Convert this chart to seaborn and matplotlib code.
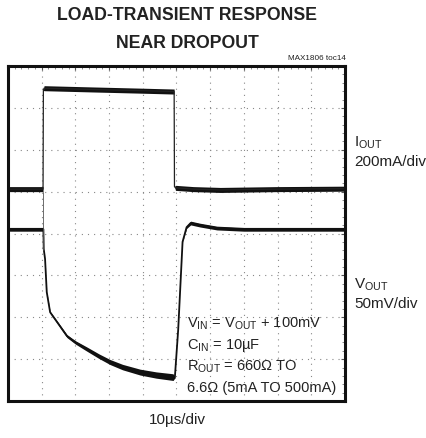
import numpy as np
import pandas as pd
import seaborn as sns
import matplotlib.pyplot as plt
from matplotlib.ticker import MultipleLocator

# scope screen: 10 x-divisions, 8 y-divisions (values in divisions)
iout_t = [0.0, 1.04, 1.05, 1.07, 2.5, 4.0, 4.93, 4.94, 4.97, 5.5, 6.3, 8.0, 10.0]
iout_y = [5.06, 5.06, 7.42, 7.47, 7.44, 7.41, 7.39, 5.12, 5.09, 5.06, 5.04, 5.06, 5.07]
iout_spread = [0.06, 0.06, 0.0, 0.06, 0.06, 0.06, 0.06, 0.0, 0.06, 0.06, 0.06, 0.06, 0.06]

vout_t = [0.0, 1.05, 1.06, 1.10, 1.15, 1.25, 1.54, 1.75, 2.0, 2.34, 2.7, 3.03,
          3.4, 3.92, 4.4, 4.90, 4.95, 5.05, 5.18, 5.30, 5.42, 5.7, 6.2, 7.0, 10.0]
vout_y = [4.10, 4.10, 3.63, 3.39, 2.60, 2.12, 1.79, 1.55, 1.40, 1.24, 1.07, 0.93,
          0.81, 0.69, 0.62, 0.57, 0.55, 1.70, 3.80, 4.15, 4.25, 4.20, 4.13, 4.10, 4.10]
vout_spread = [0.045, 0.045, 0.0, 0.005, 0.01, 0.02, 0.03, 0.035, 0.04, 0.05, 0.055, 0.06,
               0.065, 0.07, 0.075, 0.08, 0.0, 0.0, 0.005, 0.03, 0.045, 0.045, 0.045, 0.045, 0.045]

title_lines = ["LOAD-TRANSIENT RESPONSE", "NEAR DROPOUT"]
right_labels = [r"I$_\mathregular{OUT}$", "200mA/div", r"V$_\mathregular{OUT}$", "50mV/div"]
right_label_y = [143, 162, 285, 304]
conditions = [r"V$_\mathregular{IN}$ = V$_\mathregular{OUT}$ + 100mV",
              r"C$_\mathregular{IN}$ = 10µF",
              r"R$_\mathregular{OUT}$ = 660Ω TO",
              r"6.6Ω (5mA TO 500mA)"]

sns.set_style("white")
plt.rcParams['font.family'] = ['Liberation Sans', 'DejaVu Sans']
plt.rcParams['mathtext.fontset'] = 'custom'
plt.rcParams['mathtext.rm'] = 'Liberation Sans'

fig = plt.figure(figsize=(4.27, 4.39), dpi=100)
ax = fig.add_axes([8/427, 1 - 402/439, 337/427, 335/439])

iout = pd.DataFrame({"t": iout_t, "y": iout_y, "s": iout_spread})
vout = pd.DataFrame({"t": vout_t, "y": vout_y, "s": vout_spread})

for d in (iout, vout):
    ax.fill_between(d["t"], d["y"] - d["s"], d["y"] + d["s"], color="#111111", lw=0)
sns.lineplot(data=iout, x="t", y="y", ax=ax, color="#222222", lw=0.9, sort=False)
sns.lineplot(data=vout, x="t", y="y", ax=ax, color="#111111", lw=1.3, sort=False)
ax.plot([1.05, 1.05], [3.6, 5.0], color="#555555", lw=0.6)

ax.set_xlim(0, 10)
ax.set_ylim(0, 8)
ax.xaxis.set_major_locator(MultipleLocator(1))
ax.yaxis.set_major_locator(MultipleLocator(1))
ax.xaxis.set_minor_locator(MultipleLocator(0.2))
ax.yaxis.set_minor_locator(MultipleLocator(0.2))
ax.grid(True, which="major", color="#888888", lw=0.8, linestyle=(0, (1, 4.5)))
ax.tick_params(which="both", direction="in", top=True, right=True,
               labelbottom=False, labelleft=False)
ax.tick_params(which="major", length=3, width=0.8, color="#555555")
ax.tick_params(which="minor", length=2, width=0.6, color="#777777")
for sp in ax.spines.values():
    sp.set_linewidth(2.2)
    sp.set_color("#111111")
ax.set_xlabel("")
ax.set_ylabel("")

for i, line in enumerate(title_lines):
    fig.text(187/427, 1 - (16 + 27*i)/439, line, ha="center", va="center",
             fontsize=12.7, fontweight="bold", color="#222222")
fig.text(346/427, 1 - 58/439, "MAX1806 toc14", ha="right", va="center",
         fontsize=5.9, color="#222222")

for lab, y in zip(right_labels, right_label_y):
    fig.text(354/427, 1 - y/439, lab, ha="left", va="center",
             fontsize=11, color="#222222")

for i, line in enumerate(conditions):
    fig.text(187/427, 1 - (324 + 21.3*i)/439, line, ha="left", va="center",
             fontsize=10.5, color="#222222")

fig.text(177/427, 1 - 420/439, "10µs/div", ha="center", va="center",
         fontsize=11, color="#222222")

fig.savefig("out.png", dpi=100)
